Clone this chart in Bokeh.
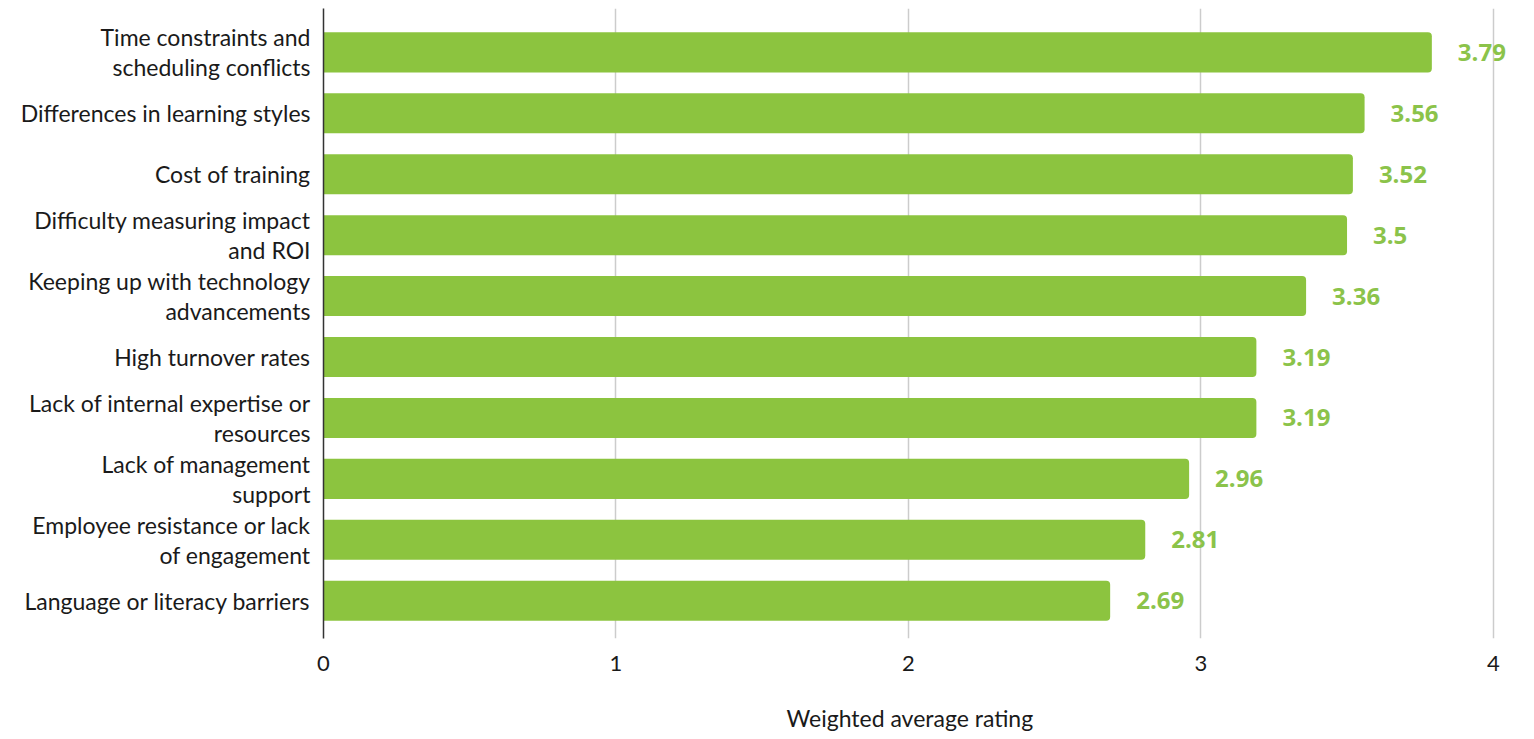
from bokeh.plotting import figure
from bokeh.models import ColumnDataSource, Range1d, FixedTicker, Title
from bokeh.core.properties import value
from bokeh.embed import file_html
from bokeh.resources import INLINE

# Challenges, top to bottom, with their weighted average ratings
challenges = [
    "Time constraints and\nscheduling conflicts",
    "Differences in learning styles",
    "Cost of training",
    "Difficulty measuring impact\nand ROI",
    "Keeping up with technology\nadvancements",
    "High turnover rates",
    "Lack of internal expertise or\nresources",
    "Lack of management\nsupport",
    "Employee resistance or lack\nof engagement",
    "Language or literacy barriers",
]
ratings = [3.79, 3.56, 3.52, 3.5, 3.36, 3.19, 3.19, 2.96, 2.81, 2.69]
rating_labels = ["3.79", "3.56", "3.52", "3.5", "3.36", "3.19", "3.19", "2.96", "2.81", "2.69"]
x_ticks = [0, 1, 2, 3, 4]

GREEN = "#8cc43f"
LABEL_GREEN = "#8bc34a"
TEXT = "#1a1a1a"

positions = list(range(len(challenges)))
source = ColumnDataSource(data=dict(y=positions, rating=ratings, label=rating_labels))

# a little room past 4 so the top value label is not cut off
p = figure(
    frame_width=1199, frame_height=630,
    output_backend="svg", toolbar_location=None,
    x_range=Range1d(0, 4.1),
    y_range=Range1d(9.62, -0.72),
    min_border_left=323, min_border_right=12,
    min_border_top=8, min_border_bottom=0,
)
p.outline_line_color = None
p.background_fill_color = "white"

p.hbar(y="y", right="rating", left=0, height=0.657, source=source,
       fill_color=GREEN, line_color=None, border_radius=(0, 4, 4, 0))

p.text(x="rating", y="y", text="label", source=source,
       x_offset=26, text_baseline="middle", text_align="left",
       text_color=LABEL_GREEN, text_font=value("Open Sans"),
       text_font_style="bold", text_font_size="24px")

# x axis: numeric ticks, no line or tick marks
p.xaxis.ticker = FixedTicker(ticks=x_ticks)
p.xaxis.axis_line_color = None
p.xaxis.major_tick_line_color = None
p.xaxis.minor_tick_line_color = None
p.xaxis.major_label_text_font = "Lato"
p.xaxis.major_label_text_font_size = "22px"
p.xaxis.major_label_text_color = TEXT
p.xaxis.major_label_standoff = 11

# axis title, centred under the 0-4 scale rather than the whole frame
p.add_layout(Title(text="Weighted average rating", align="left", offset=463,
                   standoff=57, text_font="Lato", text_font_style="normal",
                   text_font_size="23px", text_color=TEXT), "below")

# y axis: challenge names
p.yaxis.ticker = FixedTicker(ticks=positions)
p.yaxis.major_label_overrides = {i: s for i, s in enumerate(challenges)}
p.yaxis.axis_line_color = "#333333"
p.yaxis.axis_line_width = 1.5
p.yaxis.major_tick_line_color = None
p.yaxis.minor_tick_line_color = None
p.yaxis.major_label_text_font = "Lato"
p.yaxis.major_label_text_font_size = "23px"
p.yaxis.major_label_text_color = TEXT
p.yaxis.major_label_text_line_height = 1.07
p.yaxis.major_label_standoff = 7

p.xgrid.ticker = FixedTicker(ticks=[1, 2, 3, 4])
p.xgrid.grid_line_color = "#cccccc"
p.xgrid.grid_line_width = 1.5
p.ygrid.grid_line_color = None

open("out.html", "w").write(file_html(p, INLINE))
